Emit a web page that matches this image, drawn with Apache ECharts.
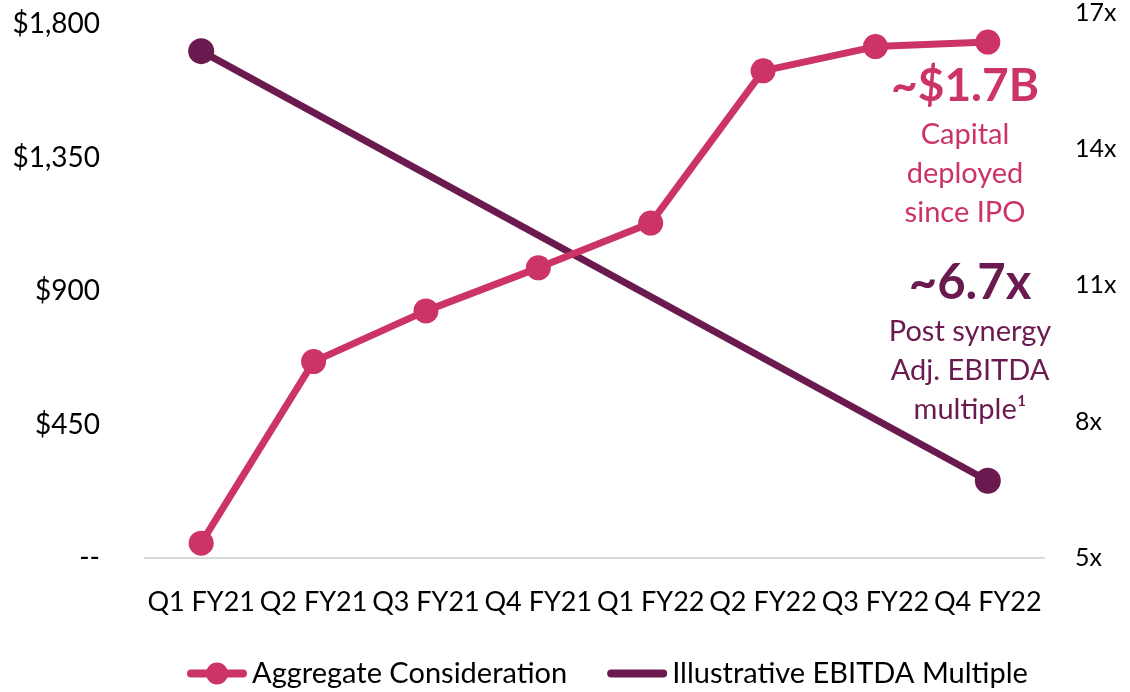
<!DOCTYPE html>
<html>
<head>
<meta charset="utf-8">
<script src="https://cdn.jsdelivr.net/npm/echarts@6/dist/echarts.min.js"></script>
<style>
html,body{margin:0;padding:0;background:#fff;}
#chart{width:1130px;height:692px;}
</style>
</head>
<body>
<div id="chart"></div>
<script>
const categories = ['Q1 FY21','Q2 FY21','Q3 FY21','Q4 FY21','Q1 FY22','Q2 FY22','Q3 FY22','Q4 FY22'];
const aggregateConsideration = [50, 662, 833, 978, 1129, 1642, 1724, 1739];
const ebitdaMultiple = [16.15, null, null, null, null, null, null, 6.7];
const leftTickLabels = {0:'--', 450:'$450', 900:'$900', 1350:'$1,350', 1800:'$1,800'};
const seriesNames = ['Aggregate Consideration', 'Illustrative EBITDA Multiple'];

const PINK = '#CC3366';
const PURPLE = '#6A1A4F';
const FONT = 'Lato';

const ICON_LINE_DOT = 'path://M4,7 L56,7 A4,4 0 0 1 56,15 L4,15 A4,4 0 0 1 4,7 Z M30,0 A11,11 0 1 1 30,22 A11,11 0 1 1 30,0 Z';
const ICON_LINE = 'path://M4,0 L56,0 A4,4 0 0 1 56,8 L4,8 A4,4 0 0 1 4,0 Z';

const chart = echarts.init(document.getElementById('chart'));
chart.setOption({
  backgroundColor: '#fff',
  textStyle: {fontFamily: FONT},
  grid: [
    {left: 145, right: 86, top: 24, bottom: 134},
    {left: 145, right: 86, top: 9, bottom: 134}
  ],
  xAxis: [
    {type: 'category', gridIndex: 0, data: categories, boundaryGap: true,
     axisLine: {lineStyle: {color: '#d9d9d9', width: 2}},
     axisTick: {show: false},
     axisLabel: {color: '#000', fontSize: 27, fontFamily: FONT, margin: 31, interval: 0}},
    {type: 'category', gridIndex: 1, data: categories, boundaryGap: true, show: false}
  ],
  yAxis: [
    {type: 'value', gridIndex: 0, min: 0, max: 1800, interval: 450,
     axisLine: {show: false}, axisTick: {show: false}, splitLine: {show: false},
     axisLabel: {color: '#000', fontSize: 28, fontFamily: FONT, margin: 45,
       formatter: v => leftTickLabels[v] !== undefined ? leftTickLabels[v] : ''}},
    {type: 'value', gridIndex: 1, position: 'right', min: 5, max: 17, interval: 3,
     axisLine: {show: false}, axisTick: {show: false}, splitLine: {show: false},
     axisLabel: {color: '#000', fontSize: 25, fontFamily: FONT, margin: 31, formatter: v => v + 'x'}}
  ],
  legend: {
    top: 659, left: 187, padding: 0, itemGap: 40, itemWidth: 60, itemHeight: 22,
    symbolKeepAspect: true,
    textStyle: {color: '#000', fontSize: 29, fontFamily: FONT},
    data: [
      {name: seriesNames[0], icon: ICON_LINE_DOT},
      {name: seriesNames[1], icon: ICON_LINE}
    ]
  },
  series: [
    {
      name: seriesNames[0], type: 'line', xAxisIndex: 0, yAxisIndex: 0,
      data: aggregateConsideration,
      symbol: 'circle', symbolSize: 25, showSymbol: true,
      lineStyle: {color: PINK, width: 7}, itemStyle: {color: PINK},
      z: 3
    },
    {
      name: seriesNames[1], type: 'line', xAxisIndex: 1, yAxisIndex: 1,
      data: ebitdaMultiple.map(v => v === null ? null : {value: v, symbol: 'circle', symbolSize: 26}),
      connectNulls: true, symbol: 'none', showSymbol: true,
      lineStyle: {color: PURPLE, width: 7}, itemStyle: {color: PURPLE},
      z: 2
    }
  ],
  graphic: [
    {type: 'text', x: 965, y: 86, style: {text: '~$1.7B', fill: PINK, font: 'bold 46px ' + FONT, align: 'center', verticalAlign: 'middle'}},
    {type: 'text', x: 965, y: 174, style: {text: 'Capital\ndeployed\nsince IPO', fill: PINK, font: '29px ' + FONT, lineHeight: 39, align: 'center', verticalAlign: 'middle'}},
    {type: 'text', x: 970, y: 283, style: {text: '~6.7x', fill: PURPLE, font: 'bold 49px ' + FONT, align: 'center', verticalAlign: 'middle'}},
    {type: 'text', x: 970, y: 371, style: {text: 'Post synergy\nAdj. EBITDA\nmultiple¹', fill: PURPLE, font: '29px ' + FONT, lineHeight: 39, align: 'center', verticalAlign: 'middle'}}
  ]
});
</script>
</body>
</html>
